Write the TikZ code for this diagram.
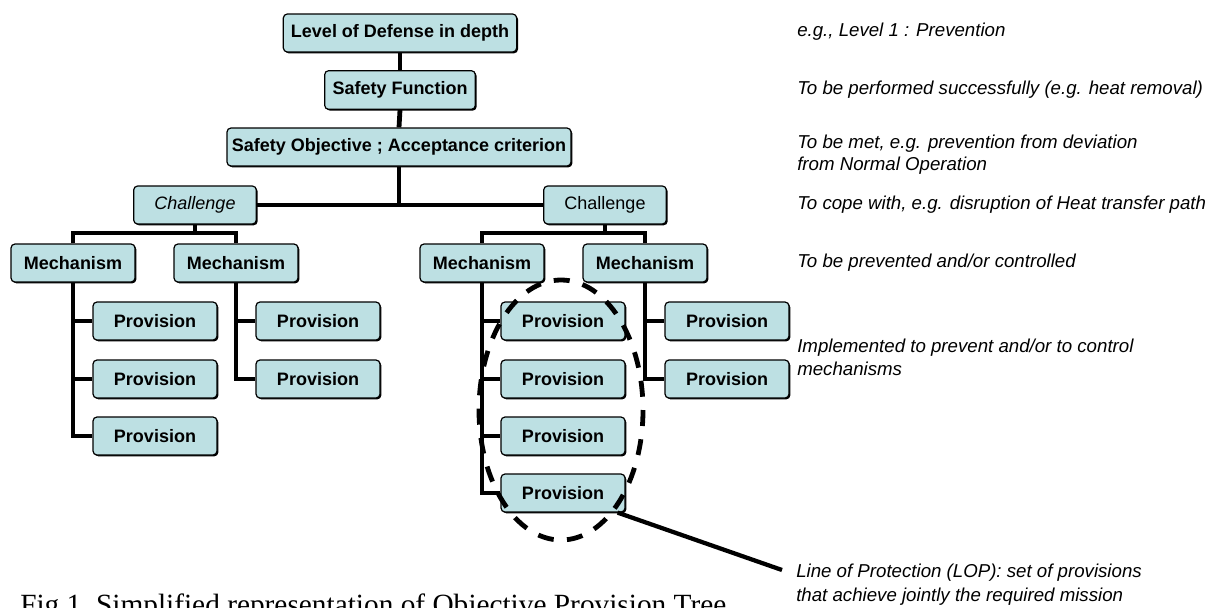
\documentclass[tikz,border=0pt]{standalone}
\usepackage{fontspec}
\setmainfont{Liberation Sans}
\newfontfamily\capfont{Liberation Serif}
\usetikzlibrary{shadows}
\definecolor{boxfill}{RGB}{189,224,227}
\begin{document}
\begin{tikzpicture}[x=0.75pt,y=-0.75pt]
\tikzset{
  box/.style={draw=black, line width=0.9pt, rounded corners=3pt, fill=boxfill, inner sep=0pt,
    minimum height=28.5pt, font=\bfseries\fontsize{13.5}{15}\selectfont,
    drop shadow={shadow xshift=1pt, shadow yshift=-1pt, fill=black, opacity=1}},
  mechbox/.style={box, minimum width=93pt},
  provbox/.style={box, minimum width=93pt},
  chalbox/.style={box, minimum width=92pt, font=\fontsize{13.5}{15}\selectfont},
  conn/.style={line width=3.6pt, line join=miter},
  note/.style={anchor=west, inner sep=0pt, font=\itshape\fontsize{14}{16}\selectfont, align=left},
  lop/.style={line width=3.6pt, dash pattern=on 12pt off 10pt},
}
\clip (0,0) rectangle (1220,607);
\fill[white] (0,0) rectangle (1220,607);

% top chain
\node[box, minimum width=175pt] (L1) at (400,33) {Level of Defense in depth};
\node[box, minimum width=113pt, minimum height=29pt] (SF) at (400,90) {Safety Function};
\node[box, minimum width=258pt] (SO) at (399,147) {Safety Objective ; Acceptance criterion};

% challenges
\node[chalbox, font=\itshape\fontsize{13.5}{15}\selectfont] (C1) at (195,205) {Challenge};
\node[chalbox] (C2) at (605,205) {Challenge};

% mechanisms
\node[mechbox] (M1) at (73,263) {Mechanism};
\node[mechbox] (M2) at (236,263) {Mechanism};
\node[mechbox] (M3) at (482,263) {Mechanism};
\node[mechbox] (M4) at (645,263) {Mechanism};

% provisions
\node[provbox] (P11) at (155,321) {Provision};
\node[provbox] (P12) at (155,379) {Provision};
\node[provbox] (P13) at (155,436) {Provision};
\node[provbox] (P21) at (318,321) {Provision};
\node[provbox] (P22) at (318,379) {Provision};
\node[provbox] (P31) at (563,321) {Provision};
\node[provbox] (P32) at (563,379) {Provision};
\node[provbox] (P33) at (563,436) {Provision};
\node[provbox] (P34) at (563,493) {Provision};
\node[provbox] (P41) at (727,321) {Provision};
\node[provbox] (P42) at (727,379) {Provision};

% connectors
\coordinate (b1) at (195,233);
\coordinate (b2) at (605,233);
\draw[conn] (L1.south) -- (SF.north);
\draw[conn] (SF.south) -- (SO.north);
\draw[conn] (C1.east) -- (C2.west);
\draw[conn] (SO.south) -- (SO.south |- C1.east);
\draw[conn] (C1.south) -- (b1);
\draw[conn] (M1.north) -- (M1.north |- b1) -- (M2.north |- b1) -- (M2.north);
\draw[conn] (C2.south) -- (b2);
\draw[conn] (M3.north) -- (M3.north |- b2) -- (M4.north |- b2) -- (M4.north);

\draw[conn] (M1.south) |- (P13.west);
\draw[conn] (M1.south |- P11.west) -- (P11.west);
\draw[conn] (M1.south |- P12.west) -- (P12.west);
\draw[conn] (M2.south) |- (P22.west);
\draw[conn] (M2.south |- P21.west) -- (P21.west);
\draw[conn] (M3.south) |- (P34.west);
\draw[conn] (M3.south |- P31.west) -- (P31.west);
\draw[conn] (M3.south |- P32.west) -- (P32.west);
\draw[conn] (M3.south |- P33.west) -- (P33.west);
\draw[conn] (M4.south) |- (P42.west);
\draw[conn] (M4.south |- P41.west) -- (P41.west);

% line of protection
\node[draw=none, inner sep=0pt] (LOPe) at (561,410) {};
\draw[lop] (LOPe) ellipse [x radius=82, y radius=130];
\coordinate (lopend) at (782,570);
\draw[line width=3.2pt] (P34.south east) ++(-8,0) coordinate (lopstart) -- (lopend);

% annotations
\node[note] (n1) at (797,32) {e.g., Level 1 : Prevention};
\node[note] (n2) at (797,90) {To be performed successfully (e.g. heat removal)};
\node[note, font=\itshape\fontsize{14}{16.5}\selectfont] (n3) at (797,155) {To be met, e.g. prevention from deviation\\from Normal Operation};
\node[note] (n4) at (797,205) {To cope with, e.g. disruption of Heat transfer path};
\node[note] (n5) at (797,263) {To be prevented and/or controlled};
\node[note, font=\itshape\fontsize{14}{17}\selectfont] (n6) at (797,357) {Implemented to prevent and/or to control\\mechanisms};
\node[note, font=\itshape\fontsize{14}{18}\selectfont] (n7) at (796,585) {Line of Protection (LOP): set of provisions\\that achieve jointly the required mission};

% caption (cut off at the bottom, as in the reference)
\node[anchor=base west, inner sep=0pt, font=\capfont\fontsize{22}{26}\selectfont] (cap) at (20,614) {Fig.1 \ Simplified representation of Objective Provision Tree};
\end{tikzpicture}
\end{document}
